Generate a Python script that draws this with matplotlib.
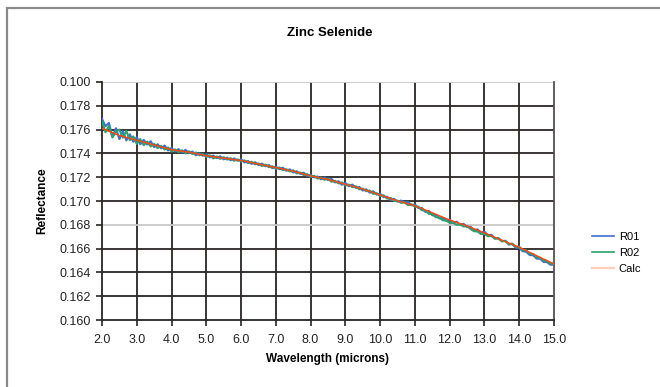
import numpy as np
import matplotlib
matplotlib.use("Agg")
import matplotlib.pyplot as plt
from matplotlib.lines import Line2D
from matplotlib.patches import Rectangle
from matplotlib.ticker import FixedLocator, FixedFormatter

plt.rcParams['font.family'] = ['Liberation Sans', 'DejaVu Sans']

title = "Zinc Selenide"
xlabel = "Wavelength (microns)"
ylabel = "Reflectance"

wavelength = np.linspace(2.0, 15.0, 131)

r01 = [0.17690, 0.17628, 0.17656, 0.17539, 0.17612, 0.17520, 0.17587, 0.17509, 0.17561, 0.17498,
       0.17535, 0.17477, 0.17514, 0.17474, 0.17503, 0.17452, 0.17477, 0.17442, 0.17466, 0.17424,
       0.17446, 0.17416, 0.17436, 0.17406, 0.17430, 0.17402, 0.17416, 0.17384, 0.17402, 0.17380,
       0.17394, 0.17366, 0.17382, 0.17360, 0.17376, 0.17350, 0.17364, 0.17342, 0.17358, 0.17338,
       0.17350, 0.17324, 0.17336, 0.17312, 0.17326, 0.17302, 0.17314, 0.17292, 0.17302, 0.17276,
       0.17288, 0.17268, 0.17280, 0.17254, 0.17266, 0.17240, 0.17250, 0.17228, 0.17238, 0.17210,
       0.17220, 0.17198, 0.17206, 0.17182, 0.17198, 0.17176, 0.17186, 0.17156, 0.17166, 0.17136,
       0.17152, 0.17124, 0.17138, 0.17110, 0.17118, 0.17088, 0.17098, 0.17070, 0.17082, 0.17054,
       0.17060, 0.17032, 0.17036, 0.17008, 0.17018, 0.16994, 0.17004, 0.16988, 0.16992, 0.16964,
       0.16972, 0.16940, 0.16942, 0.16908, 0.16916, 0.16880, 0.16882, 0.16854, 0.16856, 0.16834,
       0.16844, 0.16816, 0.16826, 0.16798, 0.16808, 0.16780, 0.16784, 0.16754, 0.16762, 0.16734,
       0.16742, 0.16712, 0.16716, 0.16684, 0.16688, 0.16662, 0.16666, 0.16634, 0.16638, 0.16608,
       0.16606, 0.16578, 0.16574, 0.16546, 0.16544, 0.16516, 0.16514, 0.16488, 0.16486, 0.16464,
       0.16466]

r02 = [0.17665, 0.17578, 0.17631, 0.17534, 0.17582, 0.17600, 0.17532, 0.17589, 0.17511, 0.17543,
       0.17480, 0.17520, 0.17469, 0.17500, 0.17458, 0.17480, 0.17444, 0.17464, 0.17432, 0.17450,
       0.17414, 0.17434, 0.17410, 0.17426, 0.17400, 0.17418, 0.17394, 0.17408, 0.17384, 0.17394,
       0.17370, 0.17384, 0.17358, 0.17374, 0.17354, 0.17368, 0.17348, 0.17360, 0.17338, 0.17350,
       0.17332, 0.17342, 0.17318, 0.17330, 0.17308, 0.17316, 0.17294, 0.17306, 0.17284, 0.17292,
       0.17270, 0.17282, 0.17260, 0.17268, 0.17248, 0.17258, 0.17232, 0.17240, 0.17218, 0.17226,
       0.17202, 0.17212, 0.17188, 0.17198, 0.17178, 0.17188, 0.17162, 0.17170, 0.17148, 0.17156,
       0.17130, 0.17138, 0.17116, 0.17124, 0.17098, 0.17104, 0.17082, 0.17088, 0.17060, 0.17066,
       0.17042, 0.17048, 0.17020, 0.17026, 0.17000, 0.17004, 0.16984, 0.16990, 0.16966, 0.16972,
       0.16952, 0.16952, 0.16922, 0.16920, 0.16892, 0.16890, 0.16864, 0.16862, 0.16838, 0.16836,
       0.16816, 0.16816, 0.16800, 0.16802, 0.16786, 0.16790, 0.16764, 0.16746, 0.16744, 0.16722,
       0.16724, 0.16704, 0.16706, 0.16684, 0.16686, 0.16662, 0.16664, 0.16638, 0.16642, 0.16616,
       0.16616, 0.16588, 0.16586, 0.16558, 0.16554, 0.16530, 0.16522, 0.16502, 0.16496, 0.16476,
       0.16474]

calc_wl = [2.0, 2.5, 3.0, 3.5, 4.0, 4.5, 5.0, 5.5, 6.0, 6.5, 7.0, 7.5, 8.0, 8.5, 9.0,
           9.5, 10.0, 10.5, 11.0, 11.5, 12.0, 12.5, 13.0, 13.5, 14.0, 14.5, 15.0]
calc = [0.1761, 0.1755, 0.1751, 0.1747, 0.1743, 0.1741, 0.1738, 0.1736, 0.1734, 0.1731,
        0.1728, 0.1725, 0.1721, 0.1718, 0.1714, 0.1710, 0.1705, 0.1700, 0.1696, 0.1690,
        0.1684, 0.1679, 0.1673, 0.1667, 0.1661, 0.1654, 0.1647]

xticks = [2.0, 3.0, 4.0, 5.0, 6.0, 7.0, 8.0, 9.0, 10.0, 11.0, 12.0, 13.0, 14.0, 15.0]
xtick_labels = ["2.0", "3.0", "4.0", "5.0", "6.0", "7.0", "8.0", "9.0", "10.0", "11.0",
                "12.0", "13.0", "14.0", "15.0"]
yticks = [0.160, 0.162, 0.164, 0.166, 0.168, 0.170, 0.172, 0.174, 0.176, 0.178, 0.180]
ytick_labels = ["0.160", "0.162", "0.164", "0.166", "0.168", "0.170", "0.172", "0.174",
                "0.176", "0.178", "0.100"]
light_grid = [0.168, 0.180]

c_r01 = "#3f6fd0"
c_r02 = "#2aa36a"
c_calc = "#f04a1a"
c_calc_leg = "#ffcdb8"
grid_c = "#2b2525"

fig = plt.figure(figsize=(6.6, 3.87), dpi=100)
fig.patches.append(Rectangle((7 / 660, -0.1), 1.2, 1.1 - 8 / 387, transform=fig.transFigure,
                             fill=False, edgecolor="#8a8a8a", linewidth=1.6))
ax = fig.add_axes([102 / 660, 1 - 320 / 387, (554 - 102) / 660, (320 - 82) / 387])

ax.set_xlim(2.0, 15.0)
ax.set_ylim(0.160, 0.180)

for xv in xticks[1:-1]:
    ax.axvline(xv, color=grid_c, linewidth=1.3, zorder=1)
for yv in yticks[1:]:
    col = "#c8c8c8" if yv in light_grid else grid_c
    ax.axhline(yv, color=col, linewidth=1.3, zorder=1)

ax.plot(wavelength, r01, color=c_r01, linewidth=1.5, zorder=3)
ax.plot(wavelength, r02, color=c_r02, linewidth=1.5, zorder=4)
ax.plot(calc_wl, calc, color=c_calc, linewidth=1.1, zorder=5)

ax.xaxis.set_major_locator(FixedLocator(xticks))
ax.xaxis.set_major_formatter(FixedFormatter(xtick_labels))
ax.yaxis.set_major_locator(FixedLocator(yticks))
ax.yaxis.set_major_formatter(FixedFormatter(ytick_labels))
ax.tick_params(axis="both", direction="out", length=4, width=1.2, color=grid_c,
               labelsize=9, labelcolor="#222222", pad=4)
ax.tick_params(axis="x", pad=6)

for s in ["left", "bottom"]:
    ax.spines[s].set_color(grid_c)
    ax.spines[s].set_linewidth(1.3)
ax.spines["top"].set_visible(False)
ax.spines["right"].set_color("#555050")
ax.spines["right"].set_linewidth(1.3)

ax.set_xlabel(xlabel, fontsize=8.5, fontweight="bold", labelpad=5)
ax.set_ylabel(ylabel, fontsize=8.5, fontweight="bold", labelpad=8)
fig.text(0.5, 1 - 33 / 387, title, ha="center", va="center", fontsize=9.5, fontweight="bold")

handles = [Line2D([], [], color=c_r01, linewidth=1.2),
           Line2D([], [], color=c_r02, linewidth=1.2),
           Line2D([], [], color=c_calc_leg, linewidth=1.6)]
fig.legend(handles, ["R01", "R02", "Calc"], loc="center left",
           bbox_to_anchor=(582 / 660, 1 - 253 / 387), frameon=False, fontsize=8,
           handlelength=2.0, handletextpad=0.4, labelspacing=0.55)

fig.savefig("out.png", dpi=100)
